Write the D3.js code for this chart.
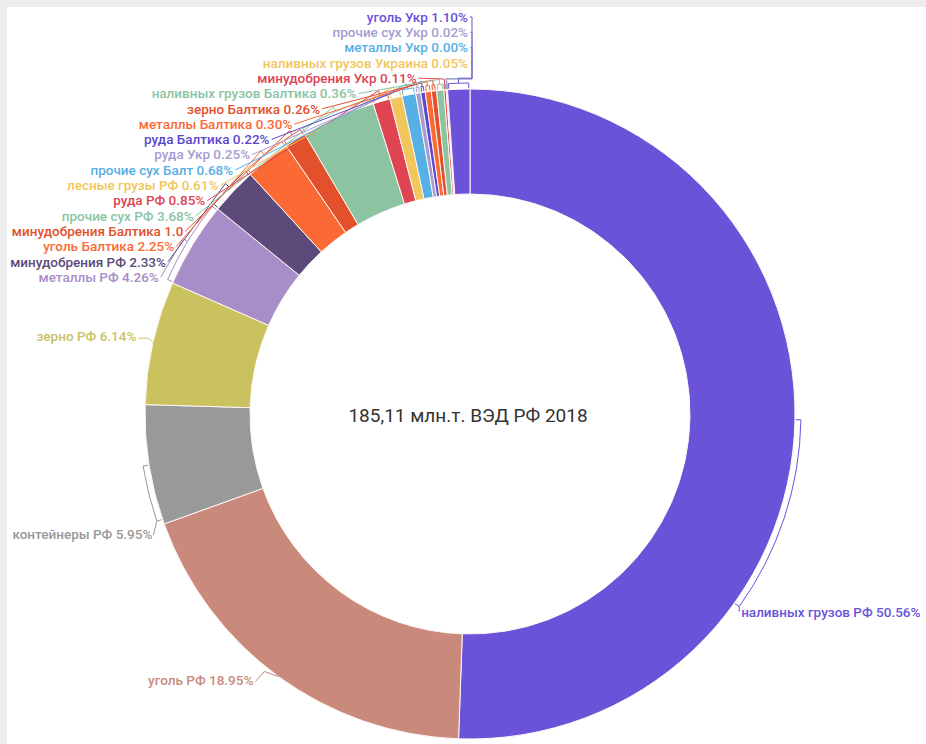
<!DOCTYPE html>
<html>
<head>
<meta charset="utf-8">
<script src="https://cdn.jsdelivr.net/npm/d3@7"></script>
<style>
  html, body { margin: 0; padding: 0; background: #ececec; }
  svg { display: block; }
  text { font-family: Roboto, "Noto Sans", sans-serif; }
</style>
</head>
<body>
<div id="chart"></div>
<script>
// shares of cargo, clockwise from 12 o'clock
var categories = [
  "наливных грузов РФ", "уголь РФ", "контейнеры РФ", "зерно РФ", "металлы РФ",
  "минудобрения РФ", "уголь Балтика", "минудобрения Балтика", "прочие сух РФ", "руда РФ",
  "лесные грузы РФ", "прочие сух Балт", "руда Укр", "руда Балтика", "металлы Балтика",
  "зерно Балтика", "наливных грузов Балтика", "минудобрения Укр", "наливных грузов Украина",
  "металлы Укр", "прочие сух Укр", "уголь Укр"
];
var shares = [50.56, 18.95, 5.95, 6.14, 4.26, 2.33, 2.25, 1.07, 3.68, 0.85, 0.61,
  0.68, 0.25, 0.22, 0.30, 0.26, 0.36, 0.11, 0.05, 0.00, 0.02, 1.10];
var colors = ["#6a52d9", "#c98a7c", "#999999", "#c9c25f", "#a78ec8", "#5b4a7a",
  "#fb6a35", "#e2512b", "#8cc4a2", "#de4452", "#f1c65c", "#55b0e6", "#a79cd2",
  "#5a48d0", "#fb6a35", "#e2512b", "#8cc4a2", "#de4452", "#f1c65c", "#55b0e6",
  "#a79cd2", "#6a52d9"];
var centerTitle = "185,11 млн.т. ВЭД РФ 2018";

var width = 926, height = 744;
var cx = 470, cy = 414;
var outerR = 325, innerR = 220;
var labelR = 340;
var bracketR = outerR + 6;

var svg = d3.select("#chart").append("svg")
  .attr("width", width).attr("height", height);
svg.append("rect").attr("x", 7).attr("y", 7)
  .attr("width", width - 7).attr("height", height - 7).attr("fill", "#fff");

var g = svg.append("g").attr("transform", "translate(" + cx + "," + cy + ")");

var pie = d3.pie().sort(null).value(function (d) { return d; });
var arcs = pie(shares);
var arc = d3.arc().innerRadius(innerR).outerRadius(outerR);

g.selectAll("path.slice").data(arcs).enter().append("path")
  .attr("class", "slice")
  .attr("d", arc)
  .attr("fill", function (d, i) { return colors[i]; })
  .attr("stroke", "#fff6f4")
  .attr("stroke-width", 1);

function pt(a, r) { return [r * Math.sin(a), -r * Math.cos(a)]; }

// bracket range for each slice; the big ones only mark a part of the slice
function bracketRange(d, i) {
  var span = d.endAngle - d.startAngle;
  var m = (d.startAngle + d.endAngle) / 2;
  if (i === 0) return [d.startAngle + span * 0.5, d.startAngle + span * 0.69];
  if (i === 2) return [d.startAngle + span * 0.04, d.startAngle + span * 0.5];
  if (i === 1 || i === 3) return [m - 0.005, m + 0.005];
  var pad = Math.min(0.004, span / 4);
  return [d.startAngle + pad, d.endAngle - pad];
}

// label layout (y is the text's middle)
var lineH = 15.3, stackTop = 17 - cy;
var labels = arcs.map(function (d, i) {
  var br = bracketRange(d, i);
  var mid = (br[0] + br[1]) / 2;
  var o = { i: i, b0: br[0], b1: br[1], mid: mid, anchor: "end" };
  o.text = categories[i] + " " + shares[i].toFixed(2) + "%";
  if (i >= 4) {
    var k = categories.length - 1 - i;
    o.y = stackTop + k * lineH;
    o.x = Math.abs(o.y) < labelR ? -Math.sqrt(labelR * labelR - o.y * o.y) : -2;
    o.x = Math.min(o.x, -2);
  } else if (i === 3) {
    var p = pt(mid, labelR);
    o.x = p[0] - 2; o.y = p[1] - 3; o.from = pt(mid, outerR);
  } else if (i === 2) {
    var p2 = pt(br[0], labelR);
    o.x = p2[0] + 4; o.y = p2[1] + 10; o.from = pt(br[0], bracketR);
  } else if (i === 1) {
    var p3 = pt(mid, outerR);
    o.x = p3[0] - 25; o.y = p3[1] + 4; o.from = p3;
    o.peak = [p3[0] - 14, p3[1] - 5];
  } else {
    var p4 = pt(br[1], bracketR);
    o.x = p4[0] + 2; o.y = p4[1] + 6; o.anchor = "start"; o.from = p4;
  }
  return o;
});

var lab = g.selectAll("g.lab").data(labels).enter().append("g").attr("class", "lab");

// brackets along the outer edge
lab.filter(function (d) { return d.i !== 1 && d.i !== 3; }).append("path")
  .attr("fill", "none")
  .attr("stroke", function (d) { return colors[d.i]; })
  .attr("stroke-width", 1)
  .attr("d", function (d) {
    var a = pt(d.b0, bracketR - 5);
    var e = pt(d.b1, bracketR - 5);
    var p = d3.path();
    p.moveTo(a[0], a[1]);
    p.arc(0, 0, bracketR, d.b0 - Math.PI / 2, d.b1 - Math.PI / 2);
    p.lineTo(e[0], e[1]);
    return p.toString();
  });

// leader lines
lab.append("path")
  .attr("fill", "none")
  .attr("stroke", function (d) { return colors[d.i]; })
  .attr("stroke-width", 1)
  .attr("d", function (d) {
    var line = d3.line();
    if (d.i === 0) return line([d.from, [d.x - 2, d.y - 1]]);
    if (d.i === 1) return line([[d.x + 2, d.y + 1], d.peak, d.from]);
    if (d.i === 2) return line([d.from, [d.x + 1, d.y + 1]]);
    if (d.i === 3) return line([[d.x + 2, d.y + 2], [d.x + 12, d.y + 2], d.from]);
    var m = pt(d.mid, bracketR), m2 = pt(d.mid, bracketR + 5);
    if (d.y < -outerR - 20) {
      var ex = Math.max(m2[0], d.x + 4);
      return line([m, m2, [ex, m2[1]], [ex, d.y], [d.x + 2, d.y]]);
    }
    return line([m, m2, [d.x + 2, d.y]]);
  });

var labelText = lab.append("text")
  .attr("x", function (d) { return d.x; })
  .attr("y", function (d) { return d.y; })
  .attr("dy", "0.35em")
  .attr("text-anchor", function (d) { return d.anchor; })
  .attr("font-size", 13.5)
  .attr("font-weight", 500)
  .attr("fill", function (d) { return colors[d.i]; })
  .text(function (d) { return d.text; });

// cut labels that would run past the left edge, once the font is in
document.fonts.ready.then(function () {
  labelText.each(function (d) {
    var el = this, s = d.text;
    if (d.anchor !== "end") return;
    while (cx + d.x - el.getBBox().width < 8 && s.length > 1) {
      s = s.slice(0, -1);
      el.textContent = s;
    }
  });
});

g.append("text")
  .attr("x", -2).attr("y", 1)
  .attr("dy", "0.35em")
  .attr("text-anchor", "middle")
  .attr("font-size", 19)
  .attr("fill", "#333")
  .text(centerTitle);
</script>
</body>
</html>
